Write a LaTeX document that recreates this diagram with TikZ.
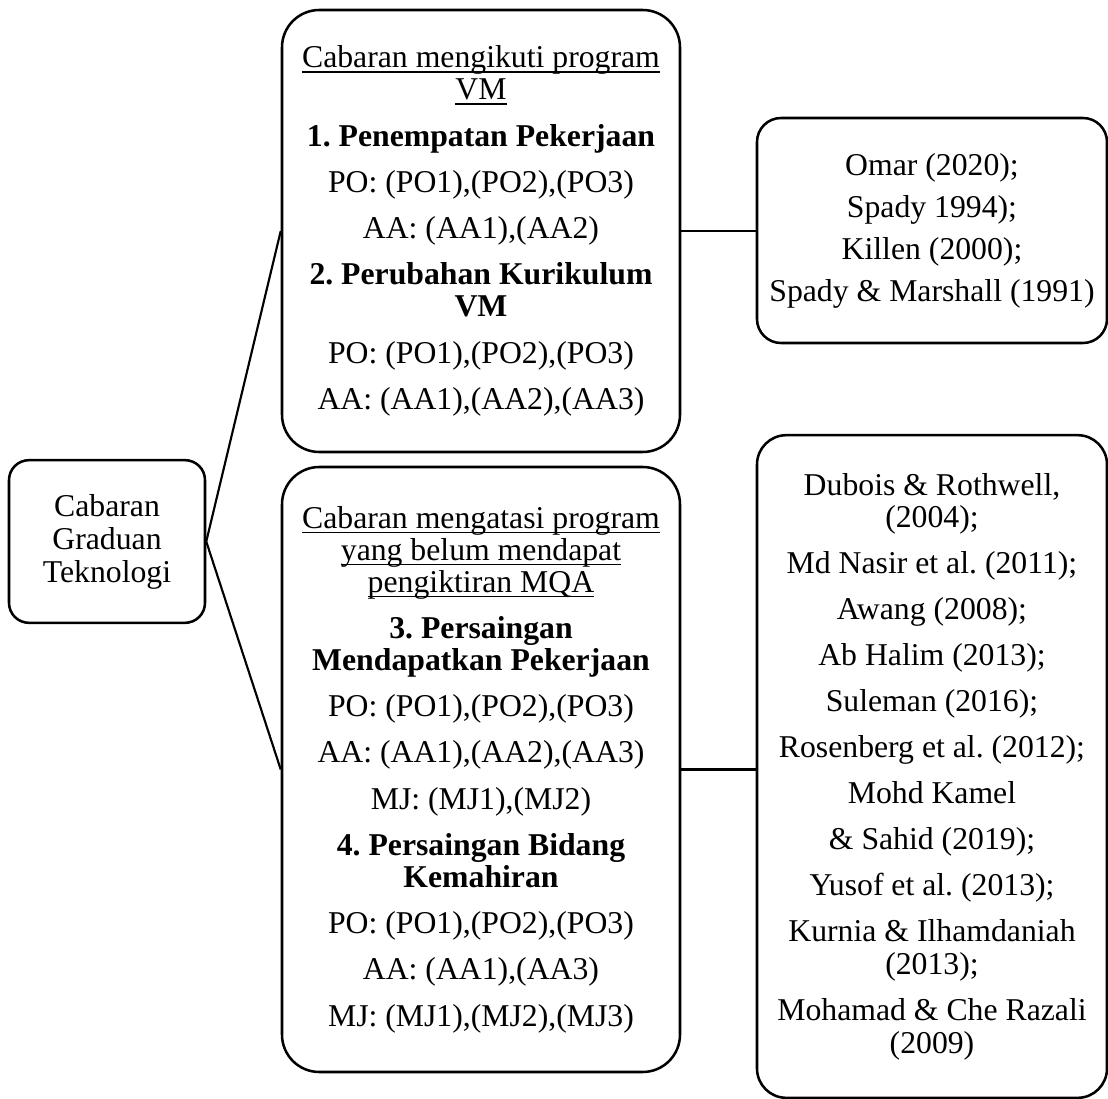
\documentclass[tikz,border=0pt]{standalone}
\usepackage{fontspec}
\setmainfont{Liberation Serif}
\frenchspacing
% underline set at a fixed depth below the baseline, crossing descenders
\newcommand\ulword[1]{\setbox0\hbox{#1}\rlap{\rule[-3.6pt]{\wd0}{0.9pt}}\box0}
\begin{document}
\begin{tikzpicture}[x=0.75pt,y=-0.75pt,
  box/.style={draw, line width=1.9pt, inner sep=0pt, align=center},
  txt/.style={font=\fontsize{23.8}{#1}\selectfont},
  link/.style={draw, line width=1.6pt}]
\useasboundingbox (0,0) rectangle (1108,1099);

% root node
\node[box, txt=24.75pt, rounded corners=15pt, minimum width=147pt, minimum height=122pt]
  (root) at (107,541.5) {Cabaran\\Graduan\\Teknologi};

% first challenge group
\node[box, txt=24pt, rounded corners=28pt, minimum width=298.5pt, minimum height=331.5pt]
  (mid1) at (481,231) {%
  \ulword{Cabaran mengikuti program}\\
  \ulword{VM}\\[10.7pt]
  \textbf{1. Penempatan Pekerjaan}\\[10.7pt]
  PO: (PO1),(PO2),(PO3)\\[10.7pt]
  AA: (AA1),(AA2)\\[10.7pt]
  \textbf{2. Perubahan Kurikulum}\\
  \textbf{VM}\\[10.7pt]
  PO: (PO1),(PO2),(PO3)\\[10.7pt]
  AA: (AA1),(AA2),(AA3)};

% second challenge group
\node[box, txt=24pt, rounded corners=28pt, minimum width=298.5pt, minimum height=453.75pt]
  (mid2) at (481,769.5) {%
  \ulword{Cabaran mengatasi program}\\
  \ulword{yang belum mendapat}\\
  \ulword{pengiktiran MQA}\\[10.7pt]
  \textbf{3. Persaingan}\\
  \textbf{Mendapatkan Pekerjaan}\\[10.7pt]
  PO: (PO1),(PO2),(PO3)\\[10.7pt]
  AA: (AA1),(AA2),(AA3)\\[10.7pt]
  MJ: (MJ1),(MJ2)\\[10.7pt]
  \textbf{4. Persaingan Bidang}\\
  \textbf{Kemahiran}\\[10.7pt]
  PO: (PO1),(PO2),(PO3)\\[10.7pt]
  AA: (AA1),(AA3)\\[10.7pt]
  MJ: (MJ1),(MJ2),(MJ3)};

% references
\node[box, txt=31.5pt, rounded corners=18pt, minimum width=262.5pt, minimum height=168.75pt]
  (ref1) at (932,230.5) {%
  Omar (2020);\\
  Spady 1994);\\
  Killen (2000);\\
  Spady \& Marshall (1991)};

\node[box, txt=24.5pt, rounded corners=22pt, minimum width=262.5pt, minimum height=497pt]
  (ref2) at (932,766.5) {%
  Dubois \& Rothwell,\\
  (2004);\\[10pt]
  Md Nasir et al. (2011);\\[10pt]
  Awang (2008);\\[10pt]
  Ab Halim (2013);\\[10pt]
  Suleman (2016);\\[10pt]
  Rosenberg et al. (2012);\\[10pt]
  Mohd Kamel\\[10pt]
  \& Sahid (2019);\\[10pt]
  Yusof et al. (2013);\\[10pt]
  Kurnia \& Ilhamdaniah\\
  (2013);\\[10pt]
  Mohamad \& Che Razali\\
  (2009)};

% connectors
\path[link] (root.east) -- (mid1.west);
\path[link] (root.east) -- (mid2.west);
\path[link] (mid1.east) -- (mid1.east -| ref1.west);
\path[link] (mid2.east) -- (mid2.east -| ref2.west);
\end{tikzpicture}
\end{document}
